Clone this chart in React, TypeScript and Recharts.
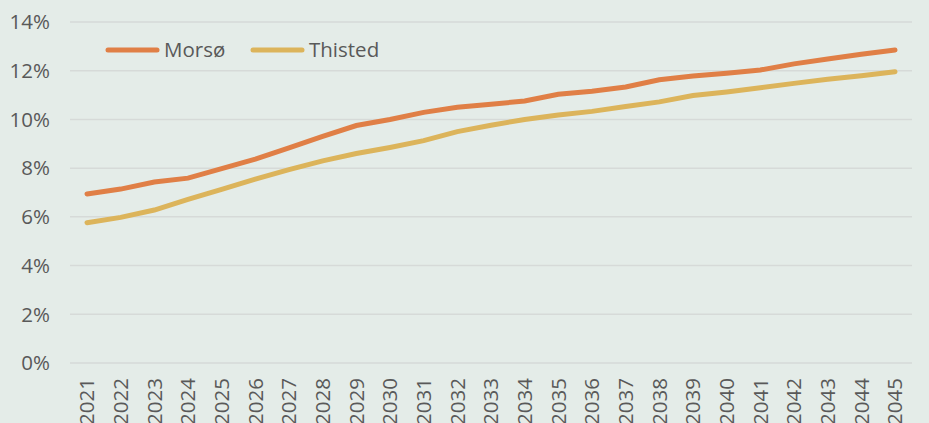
import React from 'react';
import { LineChart, Line, XAxis, YAxis, CartesianGrid } from 'recharts';

const years = [
  '2021', '2022', '2023', '2024', '2025', '2026', '2027', '2028', '2029', '2030',
  '2031', '2032', '2033', '2034', '2035', '2036', '2037', '2038', '2039', '2040',
  '2041', '2042', '2043', '2044', '2045',
];

const morsoValues = [
  6.94, 7.14, 7.43, 7.59, 7.98, 8.37, 8.83, 9.3, 9.75, 10.0,
  10.29, 10.5, 10.62, 10.76, 11.03, 11.16, 11.33, 11.63, 11.78, 11.9,
  12.03, 12.28, 12.48, 12.68, 12.85,
];

const thistedValues = [
  5.76, 5.98, 6.28, 6.72, 7.13, 7.55, 7.94, 8.3, 8.6, 8.85,
  9.13, 9.5, 9.76, 10.0, 10.18, 10.33, 10.53, 10.72, 10.98, 11.13,
  11.3, 11.48, 11.65, 11.79, 11.96,
];

const yTicks = [0, 2, 4, 6, 8, 10, 12, 14];

const seriesNames = ['Morsø', 'Thisted'];
const seriesColors = ['#E07F46', '#DCB45B'];

const data = years.map((year, i) => ({
  year,
  morso: morsoValues[i],
  thisted: thistedValues[i],
}));

const FONT = '"Open Sans", sans-serif';
const TEXT = '#595959';
const FS = 20.5;

function YearTick({ x, y, payload }: any) {
  return (
    <g transform={`translate(${x},${y})`}>
      <text
        transform="rotate(-90)"
        textAnchor="end"
        dy="0.36em"
        fill={TEXT}
        fontSize={FS}
        fontFamily={FONT}
      >
        {payload.value}
      </text>
    </g>
  );
}

export default function App() {
  return (
    <div
      style={{
        position: 'absolute',
        left: 0,
        top: 0,
        width: 929,
        height: 423,
        background: '#E4ECE8',
        overflow: 'hidden',
      }}
    >
      <LineChart
        width={929}
        height={423}
        data={data}
        margin={{ top: 22, right: 17, left: 0, bottom: 0 }}
      >
        <CartesianGrid vertical={false} stroke="#D6DAD8" strokeWidth={1.5} />
        <XAxis
          dataKey="year"
          interval={0}
          axisLine={false}
          tickLine={false}
          tickSize={0}
          tickMargin={15}
          height={60}
          padding={{ left: 17, right: 17 }}
          tick={<YearTick />}
        />
        <YAxis
          domain={[0, 14]}
          ticks={yTicks}
          width={70}
          axisLine={false}
          tickLine={false}
          tickSize={0}
          tickMargin={20}
          tickFormatter={(v) => `${v}%`}
          tick={{ fill: TEXT, fontSize: FS, fontFamily: FONT }}
        />
        <Line
          dataKey="morso"
          name={seriesNames[0]}
          stroke={seriesColors[0]}
          strokeWidth={5}
          strokeLinecap="round"
          dot={false}
          isAnimationActive={false}
        />
        <Line
          dataKey="thisted"
          name={seriesNames[1]}
          stroke={seriesColors[1]}
          strokeWidth={5}
          strokeLinecap="round"
          dot={false}
          isAnimationActive={false}
        />
      </LineChart>

      {/* legend overlay, top-left inside the plot */}
      <svg
        width={400}
        height={40}
        style={{ position: 'absolute', left: 100, top: 30 }}
      >
        {seriesNames.map((name, i) => {
          const x0 = i === 0 ? 8 : 153;
          return (
            <g key={name}>
              <line
                x1={x0}
                x2={x0 + 49}
                y1={20}
                y2={20}
                stroke={seriesColors[i]}
                strokeWidth={5}
                strokeLinecap="round"
              />
              <text
                x={x0 + 56}
                y={20}
                dy="0.36em"
                fill={TEXT}
                fontSize={FS}
                fontFamily={FONT}
              >
                {name}
              </text>
            </g>
          );
        })}
      </svg>
    </div>
  );
}
